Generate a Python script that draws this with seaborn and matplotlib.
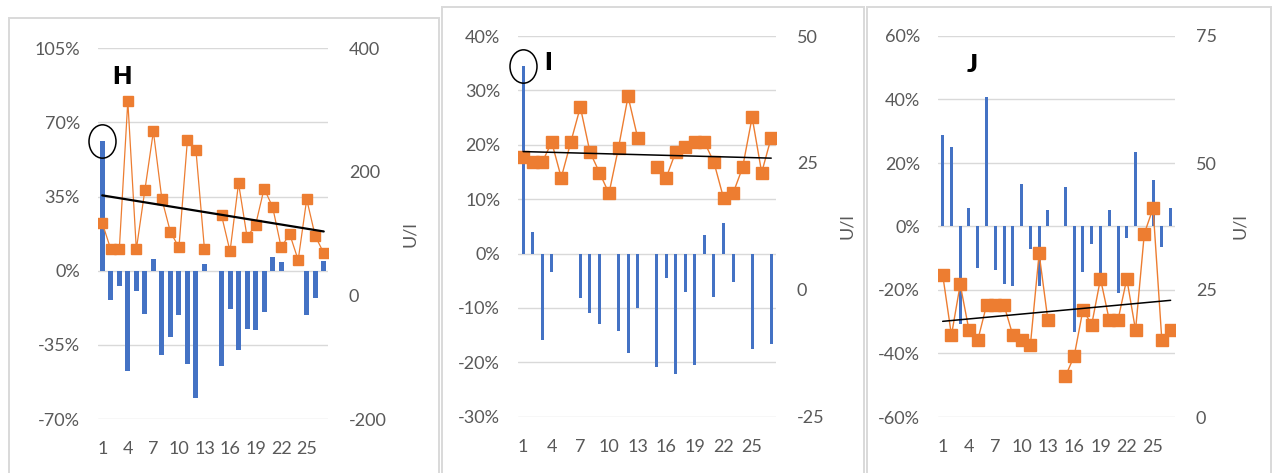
import numpy as np
import pandas as pd
import matplotlib
matplotlib.use("Agg")
import matplotlib.pyplot as plt
from matplotlib.patches import Rectangle
from matplotlib.path import Path
from matplotlib.transforms import Affine2D
import seaborn as sns

# ---- data -------------------------------------------------------------
days = list(range(1, 28))
nan = np.nan

# panel H: relative change (%) and activity (U/l)
h_change = [61.3, -13.9, -7.1, -47.5, -9.6, -20.2, 5.4, -39.6, -31.5, -20.8,
            -43.8, -59.9, 3.0, nan, -44.9, -18.3, -37.2, -27.7, -28.1, -19.4,
            6.6, 4.1, 0.0, 0.0, -20.8, -12.8, 4.7]
h_activity = [117.3, 74.6, 74.6, 314.6, 74.6, 170.3, 265.4, 155.7, 102.7, 77.8,
              251.9, 234.6, 74.6, nan, 129.7, 71.4, 181.6, 94.6, 114.1, 173.0,
              143.2, 77.8, 99.5, 57.3, 155.7, 96.2, 68.6]

# panel I
i_change = [34.5, 4.0, -15.9, -3.4, 0.0, 0.0, -8.2, -11.0, -12.9, 0.0,
            -14.2, -18.3, -10.0, nan, -20.8, -4.5, -22.1, -7.1, -20.5, 3.4,
            -8.0, 5.6, -5.2, 0.0, -17.6, 0.0, -16.6]
i_activity = [26.2, 25.1, 25.1, 29.1, 22.1, 29.1, 36.0, 27.2, 23.1, 19.0,
              28.0, 38.1, 30.0, nan, 24.1, 22.1, 27.2, 28.1, 29.1, 29.1,
              25.1, 18.1, 19.0, 24.1, 34.0, 23.1, 30.0]

# panel J
j_change = [28.7, 25.0, -30.8, 5.8, -13.2, 40.8, -13.6, -18.2, -18.7, 13.3,
            -7.0, -18.7, 5.2, nan, 12.4, -33.3, -14.3, -5.6, -17.0, 5.2,
            -20.9, -3.6, 23.5, 0.0, 14.7, -6.6, 5.8]
j_activity = [28.0, 16.1, 26.1, 17.1, 15.1, 22.0, 22.0, 22.0, 16.1, 15.1,
              14.1, 32.2, 19.1, nan, 8.0, 12.0, 21.1, 18.2, 27.2, 19.1,
              19.1, 27.2, 17.1, 36.1, 41.1, 15.1, 17.1]

panel_letters = ["H", "I", "J"]
left_ticks = [[-70, -35, 0, 35, 70, 105],
              [-30, -20, -10, 0, 10, 20, 30, 40],
              [-60, -40, -20, 0, 20, 40, 60]]
right_ticks = [[-200, 0, 200, 400],
               [-25, 0, 25, 50],
               [0, 25, 50, 75]]
x_tick_labels = [str(d) for d in days[::3]][:9]
right_label = "U/l"

# ---- style ------------------------------------------------------------
sns.set_style("white")
plt.rcParams["font.family"] = ["Lato", "DejaVu Sans"]
TEXT = "#595959"
BLUE = "#4472C4"
ORANGE = "#ED7D31"
GRID = "#D9D9D9"

fig = plt.figure(figsize=(12.73, 4.73), dpi=100)
W, H = 1273, 473


def fig_rect(x0, x1, ytop, ybot):
    return [x0 / W, 1 - ybot / H, (x1 - x0) / W, (ybot - ytop) / H]


# chart frames
for x0, x1, ytop in [(8.5, 438.5, 18.5), (441.5, 863.5, 7.5), (866.5, 1270.5, 7.5)]:
    fig.add_artist(Rectangle((x0 / W, -0.1), (x1 - x0) / W, 1.1 - ytop / H,
                             transform=fig.transFigure, fill=False,
                             ec=GRID, lw=1.4))

layouts = [
    dict(rect=fig_rect(98, 328, 48.3, 419), bar_w=0.58, ms=7.0, lw=0.9, tlw=1.6,
         title_xy=(0.104, 0.923), ylab_x=410, ring=True),
    dict(rect=fig_rect(518.3, 776, 36, 416.7), bar_w=0.32, ms=8.6, lw=1.0, tlw=1.1,
         title_xy=(0.115, 0.929), ylab_x=847, ring=True),
    dict(rect=fig_rect(938.3, 1175, 36, 417), bar_w=0.34, ms=8.6, lw=1.0, tlw=1.1,
         title_xy=(0.142, 0.925), ylab_x=1240, ring=False),
]
changes = [h_change, i_change, j_change]
activities = [h_activity, i_activity, j_activity]

# elliptical ring marker used to highlight the first bar
ring = Path.unit_circle().transformed(Affine2D().scale(0.81, 1.0))

for k in range(3):
    L = layouts[k]
    ax = fig.add_axes(L["rect"])
    df = pd.DataFrame({"day": days, "change": changes[k],
                       "activity": activities[k]})
    pos = np.arange(len(days))

    bars = df.dropna(subset=["change"])
    sns.barplot(data=bars, x="day", y="change", order=days, color=BLUE,
                saturation=1, width=L["bar_w"], linewidth=0, ax=ax, zorder=2)
    ax.set_xlim(-0.5, len(days) - 0.5)
    lt = left_ticks[k]
    ax.set_ylim(lt[0], lt[-1])
    ax.set_yticks(lt)
    ax.set_yticklabels([f"{v}%" for v in lt])
    ax.set_xticks(pos[::3][:9])
    ax.set_xticklabels(x_tick_labels)
    ax.set_xlabel("")
    ax.set_ylabel("")
    ax.grid(axis="y", color=GRID, lw=1.0, zorder=0)
    ax.grid(axis="x", visible=False)
    ax.set_axisbelow(True)
    for s in ax.spines.values():
        s.set_visible(False)
    ax.tick_params(axis="y", length=0, pad=13, labelsize=13, labelcolor=TEXT)
    ax.tick_params(axis="x", length=0, pad=16, labelsize=13, labelcolor=TEXT)

    if L["ring"]:
        ax.plot([0], [changes[k][0]], ls="none", marker=ring, ms=24,
                mfc="none", mec="black", mew=1.1, zorder=5, clip_on=False)

    ax.text(*L["title_xy"], panel_letters[k], transform=ax.transAxes,
            ha="center", va="center", fontsize=18, fontweight="heavy",
            color="black")

    ax2 = ax.twinx()
    rt = right_ticks[k]
    ax2.plot(pos, df["activity"], color=ORANGE, lw=L["lw"], marker="s",
             ms=L["ms"], mfc=ORANGE, mec=ORANGE, zorder=3)
    sns.regplot(x=pos, y=df["activity"].to_numpy(), scatter=False, ci=None,
                truncate=True, ax=ax2,
                line_kws=dict(color="black", lw=L["tlw"], zorder=4))
    ax2.set_xlim(-0.5, len(days) - 0.5)
    ax2.set_ylim(rt[0], rt[-1])
    ax2.set_yticks(rt)
    ax2.set_yticklabels([str(v) for v in rt])
    ax2.set_ylabel("")
    ax2.grid(False)
    for s in ax2.spines.values():
        s.set_visible(False)
    ax2.tick_params(axis="y", length=0, pad=15, labelsize=13, labelcolor=TEXT)
    ax2.patch.set_visible(False)

    # right-axis title, centred beside the tick labels
    y_mid = L["rect"][1] + L["rect"][3] / 2
    fig.text(L["ylab_x"] / W, y_mid, right_label, rotation=90,
             ha="center", va="center", fontsize=13, color=TEXT)

fig.savefig("out.png", dpi=100, facecolor="white")
